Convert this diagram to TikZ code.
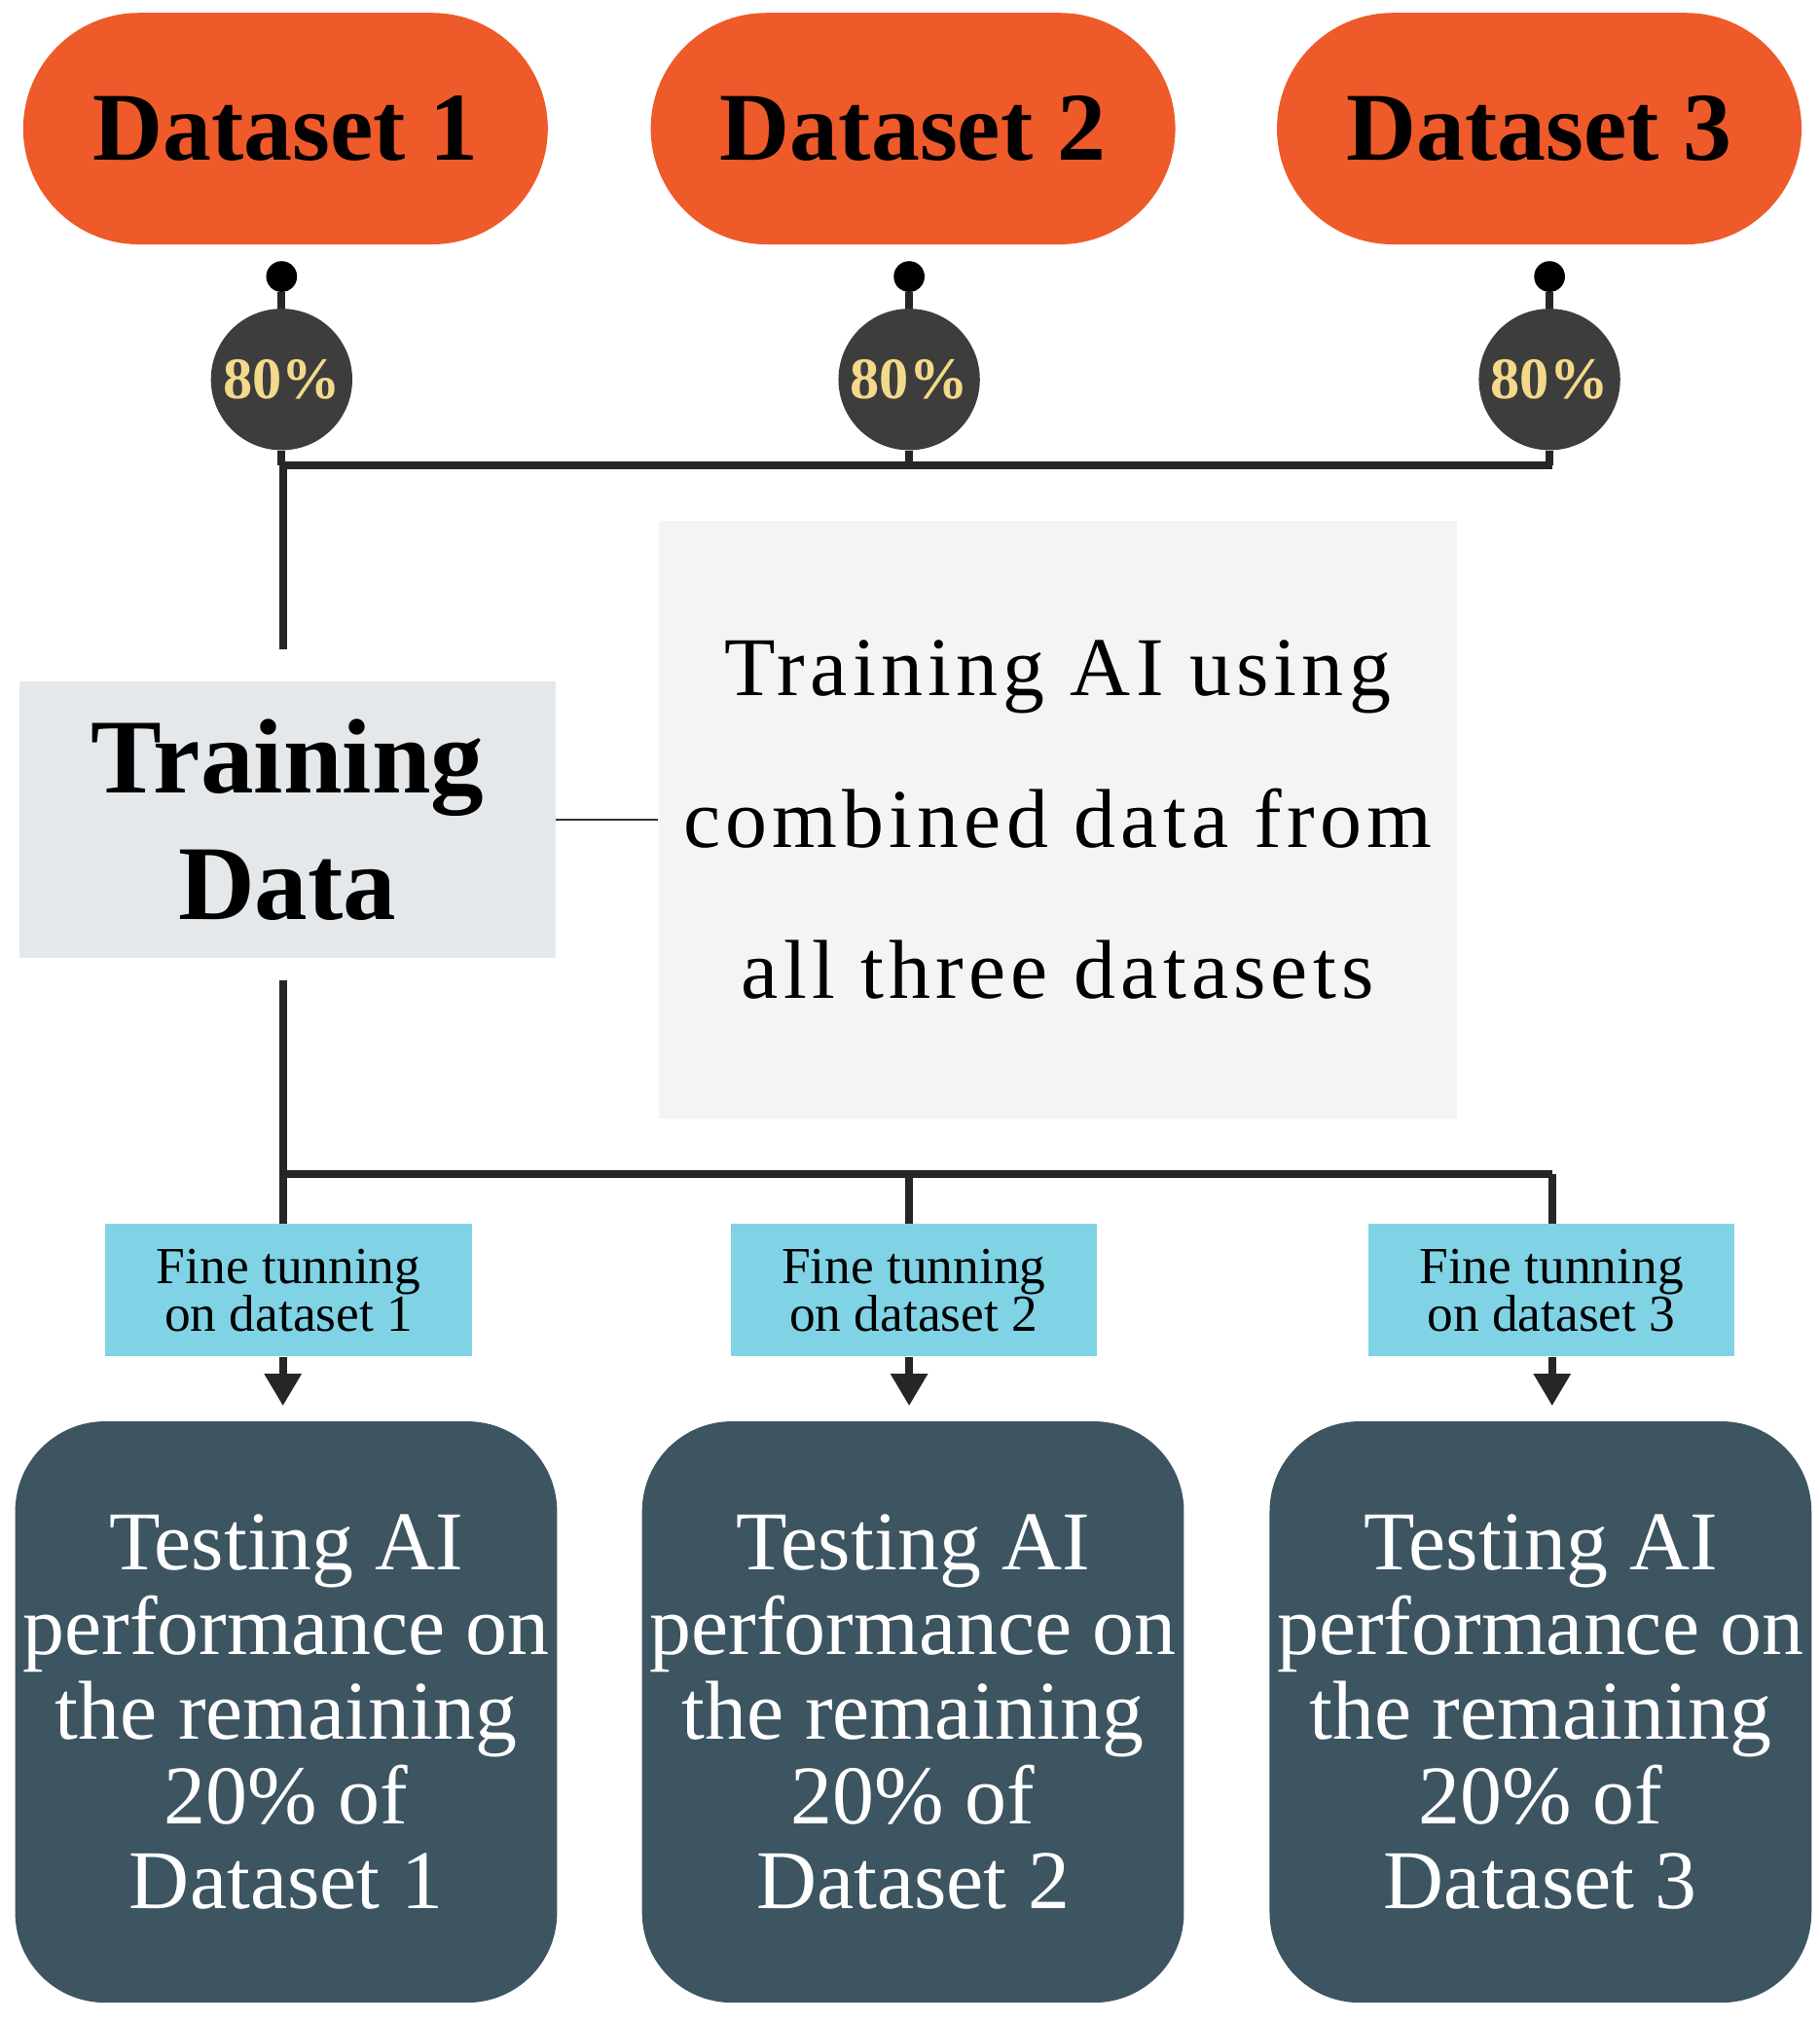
\documentclass[tikz,border=0pt]{standalone}
\usepackage{fontspec}
\setmainfont{Liberation Serif}
\usetikzlibrary{arrows.meta, positioning}
\definecolor{dsorange}{HTML}{EE5A2A}
\definecolor{pctgray}{HTML}{3D3D3D}
\definecolor{pctyellow}{HTML}{F3D98A}
\definecolor{traingray}{HTML}{E5E8EA}
\definecolor{notegray}{HTML}{F3F4F6}
\definecolor{ftcyan}{HTML}{80D3E5}
\definecolor{testslate}{HTML}{3D5461}

\begin{document}
\begin{tikzpicture}[x=0.02cm, y=-0.02cm,
    dataset/.style={draw=none, fill=dsorange, rounded corners=1.8cm, minimum width=8.16cm, minimum height=3.6cm, font=\fontsize{43}{50}\selectfont\bfseries},
    pct/.style={circle, fill=pctgray, minimum size=2.2cm, inner sep=0pt, text=pctyellow, font=\fontsize{26}{30}\selectfont\bfseries},
    pin/.style={circle, fill=black, minimum size=0.48cm, inner sep=0pt},
    finetune/.style={fill=ftcyan, minimum width=5.7cm, minimum height=2.06cm, align=center, inner sep=0pt, font=\fontsize{23}{21}\selectfont},
    testing/.style={fill=testslate, rounded corners=1.4cm, minimum width=8.18cm, minimum height=9.04cm, align=center, text=white, font=\fontsize{37}{37.5}\selectfont},
    link/.style={line width=3.4pt, black!85}]
    \useasboundingbox (0,0) rectangle (1415,1572);
    % Datasets and 80% splits
    \foreach \i/\x/\px in {1/222/219, 2/710/707, 3/1197/1205} {
        \node[dataset] (ds\i) at (\x,100) {Dataset \i};
        \node[pin] (pin\i) at (\px,215) {};
        \node[pct] (pct\i) at (\px,295) {80\%};
        \draw[link] (pin\i) -- (pct\i);
    }
    \coordinate (busL) at (220,362);
    \coordinate (busR) at (1207,362);
    \draw[link] (busL) -- (busR);
    \draw[link] (pct1) -- (pct1 |- busL);
    \draw[link] (pct2) -- (pct2 |- busL);
    \draw[link] (pct3) -- (pct3 |- busL);
    % Training data
    \node[fill=traingray, minimum width=8.34cm, minimum height=4.3cm, align=center, font=\fontsize{47}{56}\selectfont\bfseries] (train) at (223.5,637.5) {Training\\Data};
    \node[fill=notegray, minimum width=12.42cm, minimum height=9.3cm, align=center, font=\fontsize{37}{67}\selectfont\addfontfeatures{LetterSpace=6}] (note) at (822.5,637.5) {Training AI using\\combined data from\\all three datasets};
    \coordinate (trainTop) at (220,505);
    \coordinate (trainBot) at (220,762);
    \draw[link] (busL) -- (trainTop);
    \draw[thick, black!80] (train) -- (note);
    % Fine tuning and testing
    \coordinate (splitL) at (220,913);
    \coordinate (splitR) at (1207,913);
    \draw[link] (trainBot) -- (splitL) -- (splitR);
    \foreach \i/\x/\tx in {1/224.5/222.5, 2/710.5/710, 3/1206.5/1198} {
        \node[finetune] (ft\i) at (\x,1003) {Fine tunning\\on dataset \i};
        \node[testing] (test\i) at (\tx,1331) {Testing AI\\performance on\\the remaining\\20\% of\\Dataset \i};
    }
    \foreach \i/\x in {1/220, 2/707, 3/1207} {
        \coordinate (ftin\i) at (\x,913);
        \coordinate (ftout\i) at (\x,1055);
        \coordinate (tip\i) at (\x,1093);
        \draw[link] (ftin\i) -- (ftin\i |- ft\i.north);
        \draw[link, -{Triangle[length=0.5cm, width=0.55cm]}] (ftout\i) -- (tip\i);
    }
\end{tikzpicture}
\end{document}
